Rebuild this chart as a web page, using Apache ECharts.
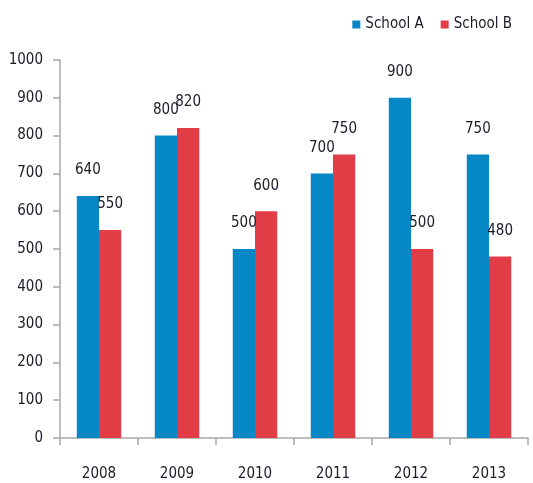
<!DOCTYPE html>
<html>
<head>
<meta charset="utf-8">
<script src="https://cdn.jsdelivr.net/npm/echarts@6/dist/echarts.min.js"></script>
<style>
html, body { margin: 0; padding: 0; background: #fff; }
#main { width: 533px; height: 483px; }
</style>
</head>
<body>
<div id="main"></div>
<script>
var years = ['2008', '2009', '2010', '2011', '2012', '2013'];
var schoolA = [640, 800, 500, 700, 900, 750];
var schoolB = [550, 820, 600, 750, 500, 480];

var chartDom = document.getElementById('main');
var myChart = echarts.init(chartDom);
var font = "'DejaVu Sans Condensed', sans-serif";
var textColor = '#1b1b2b';

var option = {
    animation: false,
    textStyle: { fontFamily: font },
    legend: {
        top: 12,
        right: 16,
        itemWidth: 8,
        itemHeight: 8,
        itemGap: 17,
        icon: 'rect',
        textStyle: { fontFamily: font, fontSize: 15, color: textColor },
        data: ['School A', 'School B']
    },
    grid: {
        left: 60,
        right: 5,
        top: 60,
        bottom: 45
    },
    xAxis: {
        type: 'category',
        data: years,
        axisLine: { lineStyle: { color: '#a8a8a8', width: 1.5 } },
        axisTick: { show: true, length: 7, lineStyle: { color: '#a8a8a8', width: 1.5 } },
        axisLabel: { margin: 29, fontFamily: font, fontSize: 15, color: textColor }
    },
    yAxis: {
        type: 'value',
        min: 0,
        max: 1000,
        interval: 100,
        splitLine: { show: false },
        axisLine: { show: true, lineStyle: { color: '#a8a8a8', width: 1.5 } },
        axisTick: { show: true, length: 7, lineStyle: { color: '#a8a8a8', width: 1.5 } },
        axisLabel: {
            margin: 17, fontFamily: font, fontSize: 15, color: textColor,
            formatter: function (v) { return String(v); }
        }
    },
    series: [
        {
            name: 'School A',
            type: 'bar',
            data: schoolA,
            barGap: '0%',
            barCategoryGap: '43%',
            itemStyle: { color: '#0788c6' },
            label: { show: true, position: 'top', distance: 18, fontFamily: font, fontSize: 15, color: textColor }
        },
        {
            name: 'School B',
            type: 'bar',
            data: schoolB,
            itemStyle: { color: '#e23c47' },
            label: { show: true, position: 'top', distance: 18, fontFamily: font, fontSize: 15, color: textColor }
        }
    ]
};

option && myChart.setOption(option);
</script>
</body>
</html>
